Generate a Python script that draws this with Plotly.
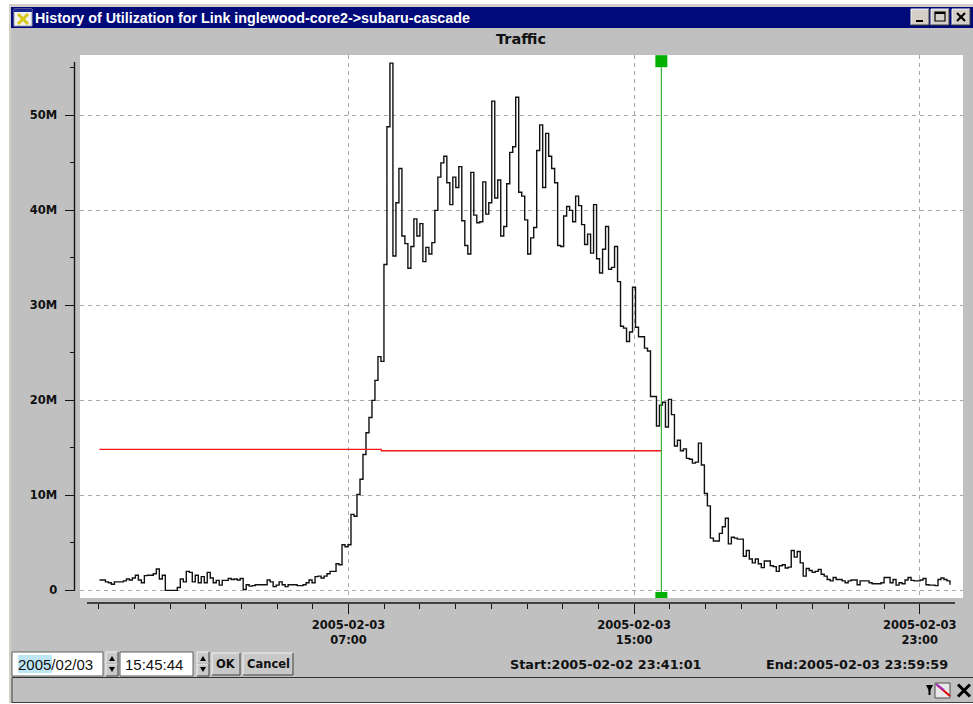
import pandas as pd
import plotly.graph_objects as go

W, H = 973, 704

# ---- data (millions of bits/s, one value per sample) ----
traffic_m = [
    1.1, 1.1, .9, .8, .65, .9, .9, .9, 1.0, 1.2, 1.1, 1.3, 1.6, 1.1, .8, 1.55, 1.6, 1.6, 1.75, 2.25, 1.2, 1.6,
    0, 0, 0, 0, .3, 1.2, .9, 2.0, 1.9, .9, 1.6, .8, 1.45, .8, 1.9, 1.3, .8, 1.05, .55, 1.05, 1.05, 1.25, 1.15, 1.2,
    1.1, 1.25, .1, .6, .45, .5, .6, .6, .6, .6, 1.1, .9, .4, .55, .9, .6, .4, .6, .6, .6, .5, .5, .6, .8, 1.1, .8,
    1.45, 1.5, 1.3, 1.5, 1.75, 2, 2, 2.8, 2.7, 4.8, 4.6, 4.8,
    8, 7.8, 10.1, 11.7, 14.3, 16.6, 18.2, 20, 22.1, 24.6, 24.1,
    34.3, 48.8, 55.5, 35.2, 40.8, 44.4, 37.3, 36.5, 33.9, 36.2, 39.1, 37.3, 38.6, 34.6, 36.1, 35.4, 36.6, 40, 43.5,
    45, 45.7, 42.9, 40.6, 43.5, 42.4, 44.6, 38.9, 36.3, 35.4, 44, 39.5, 38.7, 38.8, 43, 39.6, 40.8,
    51.5, 41.3, 43.2, 37.3, 38.3, 42.8, 46.1, 46.7, 51.9, 41.9, 41.5, 39, 35.4, 37.1, 38.2, 46.3, 49, 42.4, 48.1,
    45.7, 44.4, 42.9, 36.3, 36.2, 39.4, 40.4, 40, 38.8, 41.5, 40.5, 38.5, 36.4, 37.5, 35.5, 40.6, 34.9, 33.4, 35.9,
    38.3, 33.8, 34, 36.2, 32.5, 27.8, 27.6, 26.2, 27.2, 31.9, 27.7, 26.7, 26.7, 25.5, 25.2,
    20.4, 20.4, 17.3, 19.5, 19.8, 17.2, 20.1, 18.5, 15.2, 15.8, 14.7, 14.9, 13.9, 13.8, 13.4, 13.5, 15.5, 13.2, 10.2,
    8.9, 5.5, 5.2, 5.2, 6, 6.7, 7.6, 4.9, 5.6, 5.5, 5.4, 5.4, 3.6, 4.2, 3.3, 2.9, 3.3, 2.8, 2.4, 3.1, 3.1, 2.6, 2.5,
    2, 2.6, 2.7, 2.35, 2.45,
    4.2, 3.5, 4.1, 2.9, 1.5, 2.3, 2.1, 1.9, 2, 2.2, 1.7, 1.5, 1.15, 1, 1.35, 1.15, 1.15, 1, .8, 1, 1.1, 1.1, .6, 1,
    1, 1, .8, .7, .7, .7, .8, 1.35, 1.35, .8, 1.15, .55, .8, .7, 1.1, 1.35, 1.05, 1, 1, 1.1, 1.25, .6, .55, .55, .5,
    1.15, 1.3, 1.15, 1, .6,
]
first_sample = "2005-02-03 00:01:20"
sample_seconds = 302

threshold_times = ["2005-02-03 00:01:20", "2005-02-03 07:55:00", "2005-02-03 15:45:44"]
threshold_m = [14.84, 14.7, 14.7]
cursor_time = "2005-02-03 15:45:44"
cursor_top_m = 55.7
cursor_bottom_m = -0.8

x_range = ["2005-02-02 23:28:40", "2005-02-04 00:12:42"]
y_range_m = [-0.8, 56.35]
x_major_ticks = ["2005-02-03 07:00", "2005-02-03 15:00", "2005-02-03 23:00"]
x_major_labels = ["<b>2005-02-03</b><br><b>07:00</b>", "<b>2005-02-03</b><br><b>15:00</b>", "<b>2005-02-03</b><br><b>23:00</b>"]
x_minor_ticks = [f"2005-02-03 {h:02d}:00" for h in range(24)]
y_major_ticks = [0, 10, 20, 30, 40, 50]
y_major_labels = ["<b>0</b>", "<b>10M</b>", "<b>20M</b>", "<b>30M</b>", "<b>40M</b>", "<b>50M</b>"]
y_minor_ticks = [5, 15, 25, 35, 45, 55]

times = pd.date_range(first_sample, periods=len(traffic_m), freq=pd.Timedelta(seconds=sample_seconds))

BOLD = "DejaVu Sans"
GRID = "#a6a6a6"
DARK = "#161616"

fig = go.Figure()
fig.add_trace(go.Scatter(x=times, y=traffic_m, mode="lines", line=dict(color="#111111", width=1.4, shape="hv"),
                         showlegend=False, hoverinfo="skip"))
fig.add_trace(go.Scatter(x=threshold_times, y=threshold_m, mode="lines", line=dict(color="#f01818", width=1.3, shape="hv"),
                         showlegend=False, hoverinfo="skip"))
fig.add_trace(go.Scatter(x=[cursor_time, cursor_time], y=[cursor_top_m, cursor_bottom_m], mode="lines+markers",
                         line=dict(color="#22aa22", width=1.1),
                         marker=dict(symbol="square", size=12, color="#00b000", line=dict(width=0)),
                         cliponaxis=True, showlegend=False, hoverinfo="skip"))

shapes, notes = [], []


def px(x):
    return x / W


def py(y):
    return 1 - y / H


def rect(x0, y0, x1, y1, fill, line=None, lw=0):
    shapes.append(dict(type="rect", xref="paper", yref="paper", x0=px(x0), x1=px(x1), y0=py(y0), y1=py(y1),
                       fillcolor=fill, line=dict(color=line or fill, width=lw), layer="above"))


def seg(x0, y0, x1, y1, color=DARK, lw=1.0):
    shapes.append(dict(type="line", xref="paper", yref="paper", x0=px(x0), x1=px(x1), y0=py(y0), y1=py(y1),
                       line=dict(color=color, width=lw), layer="above"))


def tri(points, fill):
    path = "M " + " L ".join(f"{px(a):.5f},{py(b):.5f}" for a, b in points) + " Z"
    shapes.append(dict(type="path", xref="paper", yref="paper", path=path, fillcolor=fill,
                       line=dict(width=0), layer="above"))


def text(x, y, s, size, color="#111111", bold=True, anchor="left", family=BOLD):
    body = f"<b>{s}</b>" if bold else s
    notes.append(dict(xref="paper", yref="paper", x=px(x), y=py(y), text=body, showarrow=False, xanchor=anchor,
                      yanchor="middle", font=dict(size=size, color=color, family=family),
                      borderpad=0, borderwidth=0))


def button(x0, y0, x1, y1, fill="#c8c8c8"):
    rect(x0, y0, x1, y1, fill)
    seg(x0, y0, x1, y0, "#f4f4f4", 1)
    seg(x0, y0, x0, y1, "#f4f4f4", 1)
    seg(x1, y0, x1, y1, "#404040", 1)
    seg(x0, y1, x1, y1, "#404040", 1)


# window frame
rect(0, 0, 9, H, "#ffffff")
rect(0, 0, W, 4, "#ffffff")
rect(0, 703, W, H, "#ffffff")
rect(9, 4, W, 7, "#d4d0c8")
rect(9, 4, 11, 703, "#d4d0c8")
# title bar
rect(11, 7, W, 28, "#000a78")
text(35, 18, "History of Utilization for Link inglewood-core2-&gt;subaru-cascade", 14.3, "#ffffff", family="Liberation Sans")
# title icon
rect(14, 9, 32, 26, "#f2f2f2", "#9a9aa8", 1)
rect(14, 9, 32, 12, "#1a2a90")
seg(18, 14, 28, 24, "#d8c818", 3)
seg(28, 14, 18, 24, "#d8c818", 3)
# window buttons
button(911, 9, 929, 25, "#d4d0c8")
rect(916, 20, 923, 22, "#000000")
button(931, 9, 949, 25, "#d4d0c8")
rect(935, 12, 945, 21, "#d4d0c8", "#000000", 1.2)
seg(935, 13, 945, 13, "#000000", 2)
button(952, 9, 970, 25, "#d4d0c8")
seg(957, 13, 965, 21, "#000000", 2.2)
seg(965, 13, 957, 21, "#000000", 2.2)

text(521, 39, "Traffic", 14.5, anchor="center")

# detached axis lines
seg(74.5, 62, 74.5, 590, DARK, 1.4)
seg(87, 603, 955, 603, DARK, 1.4)

# bottom controls
rect(12, 652, 103, 676, "#ffffff", "#606060", 1)
rect(18, 655, 52, 673, "#bfe6f6")
text(18, 664, "2005/02/03", 15, bold=False, family="Liberation Sans")
button(106, 652, 118, 664)
tri([(109, 661), (115, 661), (112, 656)], "#000000")
button(106, 664, 118, 676)
tri([(109, 667), (115, 667), (112, 672)], "#000000")
rect(120, 652, 193, 676, "#ffffff", "#606060", 1)
text(125, 664, "15:45:44", 15, bold=False, family="Liberation Sans")
button(197, 652, 209, 664)
tri([(200, 661), (206, 661), (203, 656)], "#000000")
button(197, 664, 209, 676)
tri([(200, 667), (206, 667), (203, 672)], "#000000")
button(212, 653, 240, 675)
text(226, 664, "OK", 11.5, anchor="center")
button(243, 653, 293, 675)
text(268, 664, "Cancel", 11.5, anchor="center")
text(510, 664, "Start:2005-02-02 23:41:01", 12.8)
text(766, 664, "End:2005-02-03 23:59:59", 12.8)

# status bar
seg(12, 677.5, W, 677.5, "#303030", 1.2)
seg(12, 677.5, 12, 703, "#404040", 1)
seg(12, 702.5, W, 702.5, "#404040", 1)
tri([(926, 685), (933, 685), (929.5, 692)], "#000000")
rect(928.5, 690, 930.5, 695, "#000000")
rect(935, 683, 950, 698, "#e8e8e8", "#505050", 1)
seg(937, 685, 950, 696, "#e00000", 2)
seg(936, 684, 944, 690, "#a030c0", 2)
seg(958, 684.5, 970, 696.5, "#000000", 3)
seg(970, 684.5, 958, 696.5, "#000000", 3)

tick_font = dict(family=BOLD, size=11.5, color="#111111")
fig.update_layout(
    width=W, height=H, autosize=False,
    margin=dict(l=0, r=0, t=0, b=0, pad=0),
    paper_bgcolor="#c0c0c0", plot_bgcolor="#ffffff",
    showlegend=False,
    shapes=shapes, annotations=notes,
    xaxis=dict(
        type="date", range=x_range, domain=[80 / W, 963 / W], anchor="free", position=1 - 603 / H,
        showline=False, zeroline=False, showgrid=True, gridcolor=GRID, griddash="4px,4px", gridwidth=1,
        tickmode="array", tickvals=x_major_ticks, ticktext=x_major_labels, ticks="outside", ticklen=10, tickwidth=1.2,
        tickcolor=DARK, tickfont=tick_font, tickangle=0, ticklabelstandoff=1,
        minor=dict(tickmode="array", tickvals=x_minor_ticks, ticks="outside", ticklen=5, tickwidth=1.2,
                   tickcolor=DARK, showgrid=False),
    ),
    yaxis=dict(
        range=y_range_m, domain=[1 - 598 / H, 1 - 55 / H], anchor="free", position=74.5 / W,
        showline=False, zeroline=False, showgrid=True, gridcolor=GRID, griddash="4px,4px", gridwidth=1,
        tickmode="array", tickvals=y_major_ticks, ticktext=y_major_labels, ticks="outside", ticklen=10, tickwidth=1.2,
        tickcolor=DARK, tickfont=tick_font, ticklabelstandoff=5,
        minor=dict(tickmode="array", tickvals=y_minor_ticks, ticks="outside", ticklen=5, tickwidth=1.2,
                   tickcolor=DARK, showgrid=False),
    ),
)

fig.write_html("out.html", config=dict(displayModeBar=False),
               post_script="document.body.style.margin='0';document.body.style.overflow='hidden';")
